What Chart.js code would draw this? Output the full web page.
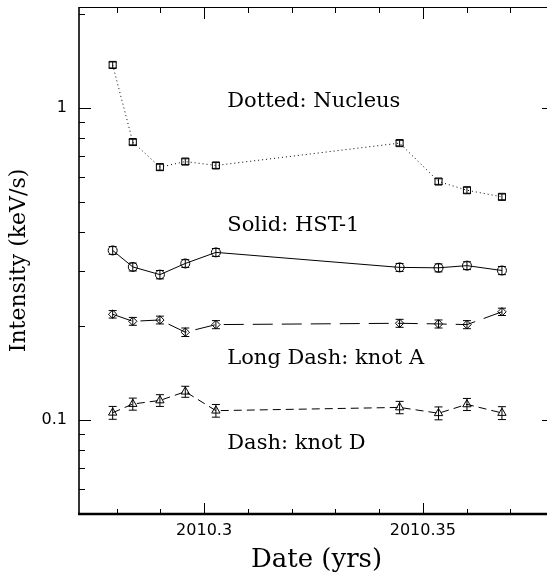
<!DOCTYPE html>
<html>
<head>
<meta charset="utf-8">
<script src="https://cdn.jsdelivr.net/npm/chart.js@4/dist/chart.umd.min.js"></script>
<style>
  html, body { margin: 0; padding: 0; background: #fff; overflow: hidden; }
  canvas { display: block; }
</style>
</head>
<body>
<canvas id="lightChart" width="560" height="575"></canvas>
<script>
// observation dates (yrs)
var dates = [2010.2791, 2010.2837, 2010.2899, 2010.2957, 2010.3027, 2010.3447, 2010.3536, 2010.3601, 2010.3681];

// intensities (keV/s) and their errors
var nucleus    = [1.37, 0.776, 0.645, 0.672, 0.653, 0.770, 0.580, 0.544, 0.518];
var nucleusErr = [0.030, 0.016, 0.014, 0.014, 0.014, 0.016, 0.012, 0.012, 0.011];
var hst1       = [0.349, 0.309, 0.292, 0.317, 0.344, 0.308, 0.307, 0.312, 0.301];
var hst1Err    = [0.010, 0.009, 0.009, 0.009, 0.010, 0.009, 0.009, 0.009, 0.009];
var knotA      = [0.218, 0.207, 0.209, 0.191, 0.202, 0.204, 0.203, 0.202, 0.222];
var knotAErr   = [0.006, 0.006, 0.006, 0.006, 0.006, 0.006, 0.006, 0.006, 0.006];
var knotD      = [0.1055, 0.1125, 0.1155, 0.1232, 0.1071, 0.1097, 0.1051, 0.1122, 0.1053];
var knotDErr   = [0.005, 0.005, 0.005, 0.005, 0.005, 0.005, 0.005, 0.005, 0.005];

// axis ticks
var xTicks = [2010.28, 2010.29, 2010.30, 2010.31, 2010.32, 2010.33, 2010.34, 2010.35, 2010.36, 2010.37];
var xTickLabels = ["2010.3", "2010.35"];
var yTicks = [0.05, 0.06, 0.07, 0.08, 0.09, 0.1, 0.2, 0.3, 0.4, 0.5, 0.6, 0.7, 0.8, 0.9, 1, 2];
var yTickLabels = ["0.1", "1"];

// in-plot captions
var notes = [
  {text: "Dotted: Nucleus", x: 2010.3053, y: 1.048},
  {text: "Solid: HST-1", x: 2010.3053, y: 0.419},
  {text: "Long Dash: knot A", x: 2010.3053, y: 0.157},
  {text: "Dash: knot D", x: 2010.3053, y: 0.0838}
];

function pts(vals, errs){
  var out = [];
  for(var i = 0; i < vals.length; i++){
    out.push({x: dates[i], y: vals[i], e: errs[i]});
  }
  return out;
}

function xLabel(v){
  for(var i = 0; i < xTickLabels.length; i++){
    if(Math.abs(parseFloat(xTickLabels[i]) - v) < 1e-6) return xTickLabels[i];
  }
  return "";
}
function yLabel(v){
  for(var i = 0; i < yTickLabels.length; i++){
    if(Math.abs(parseFloat(yTickLabels[i]) - v) < 1e-9) return yTickLabels[i];
  }
  return "";
}

// error bars with small caps
var errorBars = {
  id: "errorBars",
  afterDatasetsDraw: function(chart){
    var ctx = chart.ctx, xs = chart.scales.x, ys = chart.scales.y;
    ctx.save();
    ctx.strokeStyle = "#000";
    ctx.lineWidth = 1;
    chart.data.datasets.forEach(function(ds){
      ds.data.forEach(function(p){
        var px = xs.getPixelForValue(p.x);
        var y1 = ys.getPixelForValue(p.y - p.e);
        var y2 = ys.getPixelForValue(p.y + p.e);
        var c = 4;
        ctx.beginPath();
        ctx.moveTo(px, y1); ctx.lineTo(px, y2);
        ctx.moveTo(px - c, y1); ctx.lineTo(px + c, y1);
        ctx.moveTo(px - c, y2); ctx.lineTo(px + c, y2);
        ctx.stroke();
      });
    });
    ctx.restore();
  }
};

// box with inward ticks on all four sides, plus captions
var frame = {
  id: "frame",
  afterDraw: function(chart){
    var ctx = chart.ctx, a = chart.chartArea, xs = chart.scales.x, ys = chart.scales.y;
    ctx.save();
    ctx.strokeStyle = "#000";
    ctx.lineWidth = 1;
    ctx.beginPath();
    ctx.moveTo(a.left, a.top + 0.5); ctx.lineTo(a.right, a.top + 0.5);
    ctx.moveTo(a.right - 0.5, a.top); ctx.lineTo(a.right - 0.5, a.bottom);
    ctx.stroke();
    ctx.lineWidth = 1.6;
    ctx.beginPath();
    ctx.moveTo(a.left, a.top); ctx.lineTo(a.left, a.bottom);
    ctx.stroke();
    ctx.lineWidth = 2.5;
    ctx.beginPath();
    ctx.moveTo(a.left - 1, a.bottom); ctx.lineTo(a.right, a.bottom);
    ctx.stroke();

    ctx.lineWidth = 1;
    ctx.beginPath();
    xs.ticks.forEach(function(t){
      var px = Math.round(xs.getPixelForValue(t.value)) + 0.5;
      var len = xLabel(t.value) ? 11 : 5;
      ctx.moveTo(px, a.bottom); ctx.lineTo(px, a.bottom - len);
      ctx.moveTo(px, a.top); ctx.lineTo(px, a.top + len + 1);
    });
    ys.ticks.forEach(function(t){
      var py = Math.round(ys.getPixelForValue(t.value)) + 0.5;
      var len = yLabel(t.value) ? 12 : 6;
      ctx.moveTo(a.left, py); ctx.lineTo(a.left + len, py);
      ctx.moveTo(a.right, py); ctx.lineTo(a.right - len, py);
    });
    ctx.stroke();

    ctx.fillStyle = "#000";
    ctx.font = '21px "DejaVu Serif"';
    ctx.textAlign = "left";
    ctx.textBaseline = "middle";
    notes.forEach(function(n){
      ctx.fillText(n.text, xs.getPixelForValue(n.x), ys.getPixelForValue(n.y));
    });
    ctx.restore();
  }
};

function series(label, vals, errs, style, radius, dash){
  return {
    label: label,
    data: pts(vals, errs),
    borderColor: "#000",
    borderWidth: 1,
    borderDash: dash,
    backgroundColor: "rgba(0,0,0,0)",
    pointStyle: style,
    pointRadius: radius,
    pointBorderWidth: 1,
    pointBorderColor: "#000",
    pointBackgroundColor: "rgba(0,0,0,0)",
    tension: 0,
    fill: false
  };
}

var ctx = document.getElementById("lightChart").getContext("2d");
new Chart(ctx, {
  type: "line",
  data: {
    datasets: [
      series("Nucleus", nucleus, nucleusErr, "rect", 5, [1, 3]),
      series("HST-1", hst1, hst1Err, "circle", 4.5, []),
      series("knot A", knotA, knotAErr, "rectRot", 4.2, [20, 9]),
      series("knot D", knotD, knotDErr, "triangle", 4.8, [8, 5])
    ]
  },
  options: {
    responsive: false,
    animation: false,
    layout: { padding: { top: 7, right: 6, left: 0, bottom: 0 } },
    plugins: { legend: { display: false }, tooltip: { enabled: false } },
    scales: {
      x: {
        type: "linear",
        min: 2010.2714,
        max: 2010.38,
        afterBuildTicks: function(axis){
          axis.ticks = xTicks.map(function(v){ return {value: v}; });
        },
        afterFit: function(axis){
          axis.height = 61;
          axis.paddingLeft = 0; axis.paddingRight = 0;
        },
        grid: { display: false, drawTicks: false },
        border: { display: false },
        ticks: {
          autoSkip: false, maxRotation: 0, padding: 7, color: "#000",
          font: { family: "DejaVu Sans", size: 16 },
          callback: function(v){ return xLabel(v); }
        },
        title: {
          display: true, text: "Date (yrs)", color: "#000",
          font: { family: "DejaVu Serif", size: 26, lineHeight: 1 },
          padding: { top: 0, bottom: 2 }
        }
      },
      y: {
        type: "logarithmic",
        min: 0.05,
        max: 2.1,
        afterBuildTicks: function(axis){
          axis.ticks = yTicks.map(function(v){ return {value: v}; });
        },
        afterFit: function(axis){
          axis.width = 79;
          axis.paddingTop = 0; axis.paddingBottom = 0;
        },
        grid: { display: false, drawTicks: false },
        border: { display: false },
        ticks: {
          autoSkip: false, padding: 12, color: "#000",
          font: { family: "DejaVu Sans", size: 16 },
          callback: function(v){ return yLabel(v); }
        },
        title: {
          display: true, text: "Intensity (keV/s)", color: "#000",
          font: { family: "DejaVu Serif", size: 22, lineHeight: 1 },
          padding: { top: 8, bottom: 0 }
        }
      }
    }
  },
  plugins: [errorBars, frame]
});
</script>
</body>
</html>
